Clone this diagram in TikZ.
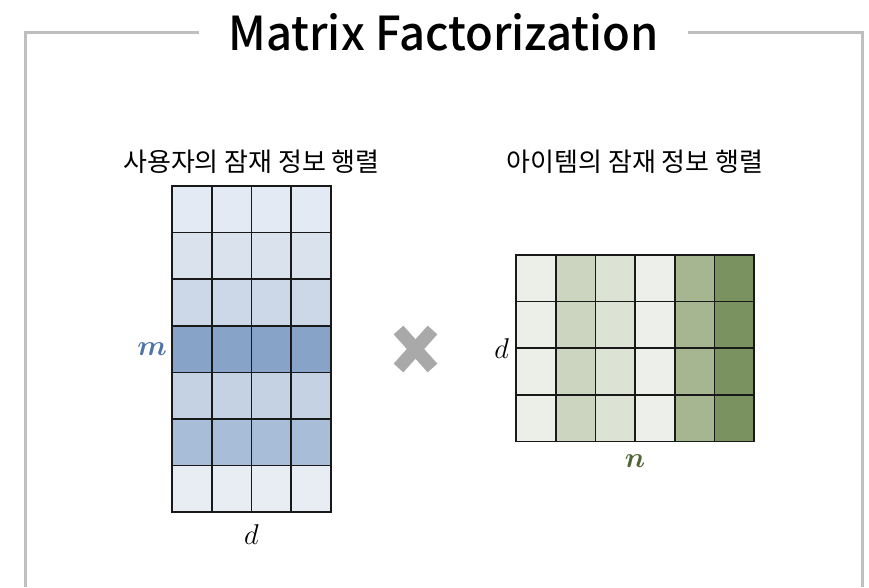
\documentclass[tikz,border=0pt]{standalone}
\usepackage{fontspec}
\usepackage{amsmath}
\usepackage{bm}
\usepackage{graphicx}
\setmainfont{Noto Sans CJK KR}
\newfontfamily\titlefont{Noto Sans CJK KR Medium}
\usepackage{tikz}
\usetikzlibrary{positioning}

\newcommand{\bigvar}[1]{\scalebox{1.15}{$#1$}}

\definecolor{frameg}{HTML}{BFBFBF}
\definecolor{crossg}{HTML}{A9A9A9}
\definecolor{mblue}{HTML}{4E73A8}
\definecolor{ngreen}{HTML}{4E6535}
% user rows
\definecolor{uA}{HTML}{E4EAF3}
\definecolor{uB}{HTML}{DAE2EE}
\definecolor{uC}{HTML}{CCD7E7}
\definecolor{uD}{HTML}{87A3C7}
\definecolor{uE}{HTML}{C5D2E3}
\definecolor{uF}{HTML}{A8BDD7}
\definecolor{uG}{HTML}{E8EDF4}
% item columns
\definecolor{iA}{HTML}{ECEFE8}
\definecolor{iB}{HTML}{CBD5C0}
\definecolor{iC}{HTML}{DCE3D5}
\definecolor{iD}{HTML}{EDF0EA}
\definecolor{iE}{HTML}{A6B690}
\definecolor{iF}{HTML}{7A9260}

\begin{document}
\begin{tikzpicture}[
  x=1pt, y=-1pt,
  cell/.style={draw=black!90, line width=1.6pt, minimum width=39.7pt, minimum height=46.6pt, inner sep=0pt, outer sep=0pt},
  lbl/.style={font=\fontsize{26}{28}\selectfont, inner sep=0pt},
  var/.style={font=\fontsize{24}{26}\selectfont, inner sep=0pt},
  frame/.style={draw=frameg, line width=3pt}
]
  \useasboundingbox (0,0) rectangle (869,587);

  \node[inner xsep=29pt, inner ysep=0pt] (title) at (443.5,32)
    {\resizebox{430pt}{37pt}{\titlefont Matrix Factorization}};
  \coordinate (bl) at (25,587);
  \coordinate (br) at (862,587);
  \draw[frame] (title.west) -| (bl);
  \draw[frame] (title.east) -| (br);

  % user matrix
  \foreach \r/\col in {1/uA,2/uB,3/uC,4/uD,5/uE,6/uF,7/uG}
    \foreach \c in {1,...,4}
      \node[cell, fill=\col] (u-\r-\c) at ({172+39.7*(\c-0.5)},{186+46.6*(\r-0.5)}) {};

  % item matrix
  \foreach \c/\col in {1/iA,2/iB,3/iC,4/iD,5/iE,6/iF}
    \foreach \r in {1,...,4}
      \node[cell, fill=\col] (i-\r-\c) at ({516+39.7*(\c-0.5)},{255+46.6*(\r-0.5)}) {};

  \node[lbl] (ulbl) at (251.5,162) {사용자의 잠재 정보 행렬};
  \node[lbl] (ilbl) at (i-1-3.north east |- ulbl) {아이템의 잠재 정보 행렬};

  \node[var, text=mblue, left=5pt of u-4-1] (m) {\bigvar{\bm{m}}};
  \node[var, below=12pt of u-7-2.south east] (ud) {\bigvar{d}};
  \node[var, left=7pt of i-2-1.south west] (id) {\bigvar{d}};
  \node[var, text=ngreen, below=13pt of i-4-3.south east] (n) {\bigvar{\bm{n}}};

  % multiplication sign
  \draw[crossg, line width=13pt] (398.5,330) -- (432.5,368);
  \draw[crossg, line width=13pt] (432.5,330) -- (398.5,368);
\end{tikzpicture}
\end{document}
